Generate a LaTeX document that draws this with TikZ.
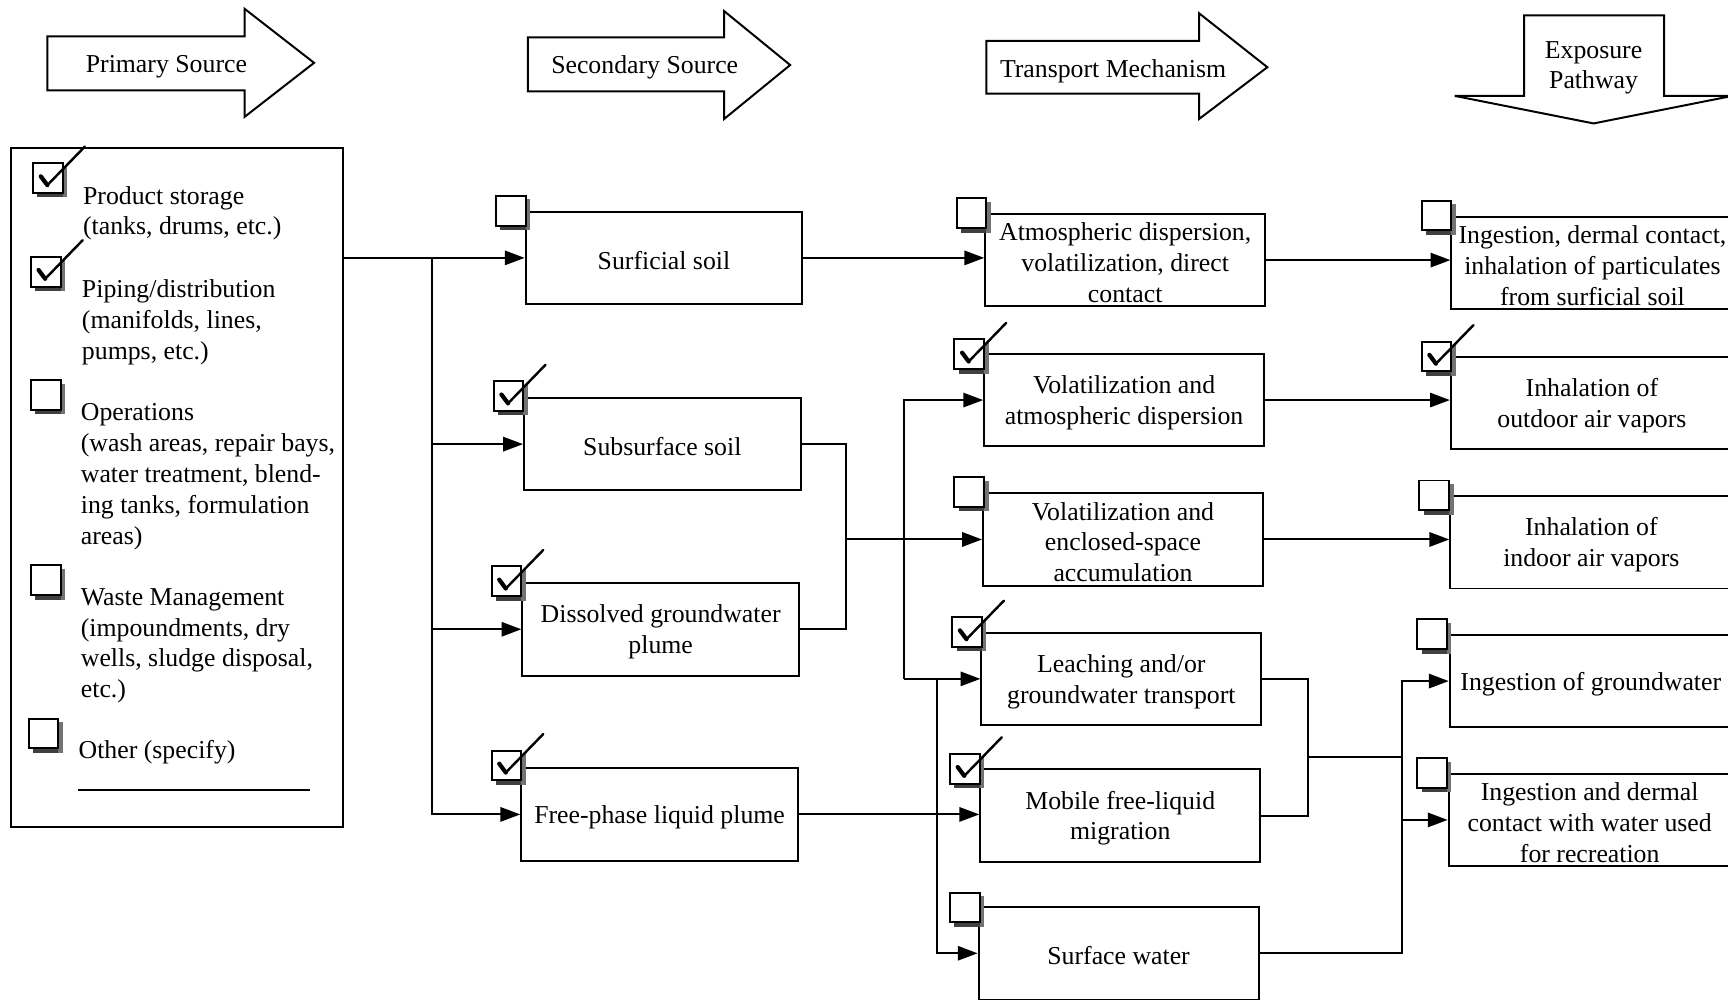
\documentclass[tikz,border=0pt]{standalone}
\usepackage{fontspec}
\setmainfont{Liberation Serif}
\usetikzlibrary{arrows.meta}
\newcommand{\fs}{\fontsize{11.7}{14}\selectfont}
\newcommand{\ckbox}[2]{%
  \fill[black!75] (#1+4,#2+27) rectangle (#1+31,#2+31);
  \fill[black!55] (#1+27,#2+3) rectangle (#1+31,#2+31);
  \draw[fill=white,line width=0.9pt] (#1,#2) rectangle (#1+27,#2+27);
}
\newcommand{\ckmark}[2]{%
  \draw[line width=1.9pt,line join=round,line cap=round] (#1+7,#2+12) -- (#1+13,#2+20);
  \draw[line width=1.1pt,line cap=round] (#1+13,#2+20) -- (#1+47,#2-15);
}
\begin{document}
\begin{tikzpicture}[x=0.5pt,y=-0.5pt,
  every node/.style={font=\fs},
  bx/.style={draw,line width=0.9pt,inner sep=0pt,minimum height=42pt},
  sbx/.style={bx,minimum width=125.5pt},
  tbx/.style={bx,minimum width=127pt},
  ebx/.style={bx,minimum width=128pt},
  tx/.style={align=center,inner sep=0pt},
  ln/.style={line width=0.9pt},
  arr/.style={ln,-{Triangle[length=9pt,width=6.5pt]}},
  hdr/.style={draw,line width=0.9pt,line join=miter}]
\useasboundingbox (0,0) rectangle (1568,907);
\clip (0,0) rectangle (1568,907);

% header arrows
\draw[hdr] (43,33) -- (222,33) -- (222,8) -- (285,57) -- (222,106) -- (222,82) -- (43,82) -- cycle;
\node (h1) at (151,60.5) {Primary Source};
\draw[hdr] (479,34) -- (657,34) -- (657,10) -- (717,59) -- (657,108) -- (657,83) -- (479,83) -- cycle;
\node (h2) at (585,61.5) {Secondary Source};
\draw[hdr] (895,37) -- (1088,37) -- (1088,12) -- (1150,61) -- (1088,108) -- (1088,85) -- (895,85) -- cycle;
\node (h3) at (1010,64.5) {Transport Mechanism};
\draw[hdr] (1383,14) -- (1510,14) -- (1510,87) -- (1572,87) -- (1446,112) -- (1320,87) -- (1383,87) -- cycle;
\node[tx] (h4) at (1446,61.5) {Exposure\\Pathway};

% legend
\node[draw,line width=0.9pt,minimum width=150.5pt,minimum height=308pt,inner sep=0pt] (leg) at (160.5,442) {};
\node[anchor=west,align=left,inner sep=0pt] (l1) at (75,193.5) {Product storage\\(tanks, drums, etc.)};
\node[anchor=west,align=left,inner sep=0pt] (l2) at (74,292.5) {Piping/distribution\\(manifolds, lines,\\pumps, etc.)};
\node[anchor=west,align=left,inner sep=0pt] (l3) at (73,432.5) {Operations\\(wash areas, repair bays,\\water treatment, blend-\\ing tanks, formulation\\areas)};
\node[anchor=west,align=left,inner sep=0pt] (l4) at (73,586) {Waste Management\\(impoundments, dry\\wells, sludge disposal,\\etc.)};
\node[anchor=west,align=left,inner sep=0pt] (l5) at (71,682.5) {Other (specify)};
\draw[ln] (71,717) -- (281,717);

% secondary sources
\node[sbx] (ss1) at (602.5,234) {};
\node[sbx] (ss2) at (601,403) {};
\node[sbx] (ss3) at (599.5,571) {};
\node[sbx] (ss4) at (598.5,739) {};
\node[tx] (ss1t) at ([yshift=-1.2pt]ss1.center) {Surficial soil};
\node[tx] (ss2t) at ([yshift=-1.2pt]ss2.center) {Subsurface soil};
\node[tx] (ss3t) at ([yshift=-1.2pt]ss3.center) {Dissolved groundwater\\plume};
\node[tx] (ss4t) at ([yshift=-1.2pt]ss4.center) {Free-phase liquid plume};

% transport mechanisms
\node[tbx] (t1) at (1021,236) {};
\node[tbx] (t2) at (1020,363) {};
\node[tbx] (t3) at (1019,489.5) {};
\node[tbx] (t4) at (1017.5,616) {};
\node[tbx] (t5) at (1016.5,740) {};
\node[tbx] (t6) at (1015,865) {};
\node[tx] (t1t) at ([yshift=-1.2pt]t1.center) {Atmospheric dispersion,\\volatilization, direct\\contact};
\node[tx] (t2t) at ([yshift=-1.2pt]t2.center) {Volatilization and\\atmospheric dispersion};
\node[tx] (t3t) at ([yshift=-1.2pt]t3.center) {Volatilization and\\enclosed-space\\accumulation};
\node[tx] (t4t) at ([yshift=-1.2pt]t4.center) {Leaching and/or\\groundwater transport};
\node[tx] (t5t) at ([yshift=-1.2pt]t5.center) {Mobile free-liquid\\migration};
\node[tx] (t6t) at ([yshift=-1.2pt]t6.center) {Surface water};

% exposure pathways
\node[ebx] (e1) at (1445,238.5) {};
\node[ebx] (e2) at (1444.5,365.5) {};
\node[ebx] (e3) at (1444,492) {};
\node[ebx] (e4) at (1443.5,618) {};
\node[ebx] (e5) at (1442.5,744) {};
\node[tx] (e1t) at ([yshift=-1.2pt]e1.center) {Ingestion, dermal contact,\\inhalation of particulates\\from surficial soil};
\node[tx] (e2t) at ([yshift=-1.2pt]e2.center) {Inhalation of\\outdoor air vapors};
\node[tx] (e3t) at ([yshift=-1.2pt]e3.center) {Inhalation of\\indoor air vapors};
\node[tx] (e4t) at ([yshift=-1.2pt]e4.center) {Ingestion of groundwater};
\node[tx] (e5t) at ([yshift=-1.2pt]e5.center) {Ingestion and dermal\\contact with water used\\for recreation};

% junction x positions
\coordinate (j0) at (392,0);
\coordinate (j1) at (768,0);
\coordinate (j2) at (820,0);
\coordinate (j3) at (850,0);
\coordinate (j4) at (1187,0);
\coordinate (j5) at (1272,0);
\coordinate (m1) at (1187,687);

% primary -> secondary
\draw[arr] (leg.east |- ss1.west) -- (ss1.west);
\draw[arr] (j0 |- ss1.west) -- (j0 |- ss4.west) -- (ss4.west);
\draw[arr] (j0 |- ss2.west) -- (ss2.west);
\draw[arr] (j0 |- ss3.west) -- (ss3.west);

% secondary -> transport
\draw[arr] (ss1.east) -- (ss1.east -| t1.west);
\draw[ln] (ss2.east) -- (j1 |- ss2.east) -- (j1 |- ss3.east) -- (ss3.east);
\draw[arr] (j1 |- t3.west) -- (t3.west);
\draw[arr] (j2 |- t4.west) -- (j2 |- t2.west) -- (t2.west);
\draw[arr] (j2 |- t4.west) -- (t4.west);
\draw[arr] (j3 |- t4.west) -- (j3 |- t6.west) -- (t6.west);
\draw[arr] (ss4.east) -- (ss4.east -| t5.west);

% transport -> exposure
\draw[arr] (t1.east) -- (t1.east -| e1.west);
\draw[arr] (t2.east) -- (t2.east -| e2.west);
\draw[arr] (t3.east) -- (t3.east -| e3.west);
\draw[ln] (t4.east) -- (j4 |- t4.east) -- (j4 |- t5.east) -- (t5.east);
\draw[ln] (m1) -- (j5 |- m1);
\draw[arr] (t6.east) -- (j5 |- t6.east) -- (j5 |- e4.west) -- (e4.west);
\draw[arr] (j5 |- e5.west) -- (e5.west);

% checkboxes
\ckbox{30}{148}\ckmark{30}{148}
\ckbox{28}{233}\ckmark{28}{233}
\ckbox{28}{345}
\ckbox{28}{513}
\ckbox{26}{652}

\ckbox{450}{178}
\ckbox{448}{346}\ckmark{448}{346}
\ckbox{446}{514}\ckmark{446}{514}
\ckbox{446}{681}\ckmark{446}{681}

\ckbox{868}{180}
\ckbox{866}{308}\ckmark{866}{308}
\ckbox{866}{433}
\ckbox{864}{560}\ckmark{864}{560}
\ckbox{862}{684}\ckmark{862}{684}
\ckbox{862}{810}

\ckbox{1290}{182}
\ckbox{1290}{310}\ckmark{1290}{310}
\ckbox{1288}{436}
\ckbox{1286}{562}
\ckbox{1286}{688}
\end{tikzpicture}
\end{document}
